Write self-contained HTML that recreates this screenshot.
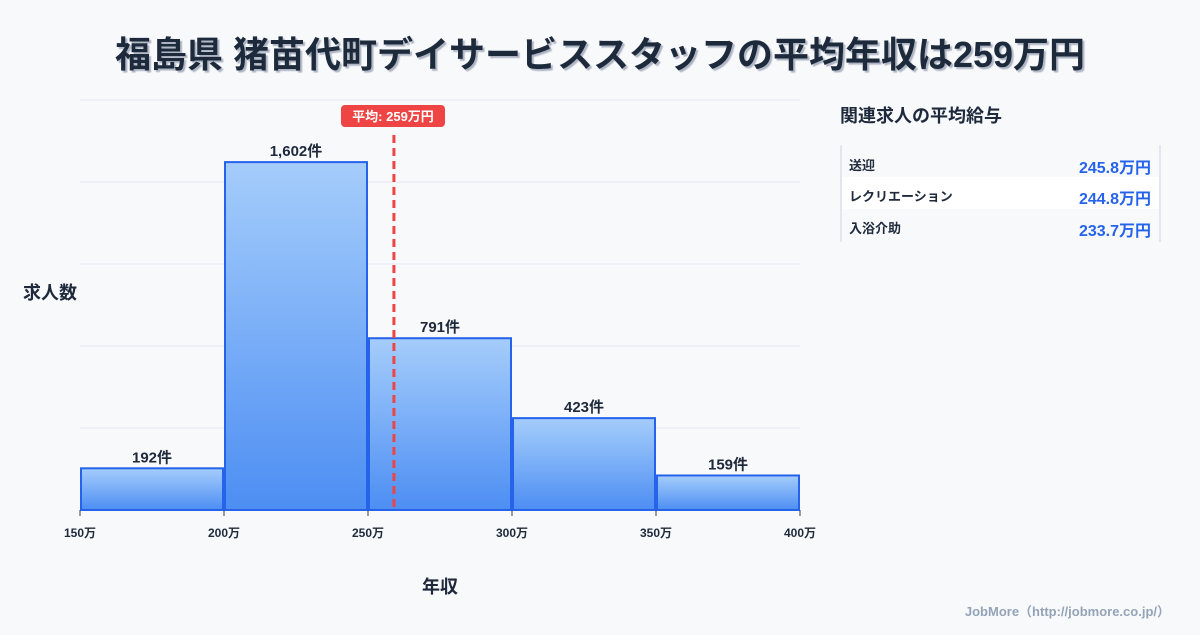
<!DOCTYPE html>
<html><head><meta charset="utf-8">
<style>
body{margin:0;width:1200px;height:630px;background:#f8f9fb;font-family:"Liberation Sans","Noto Sans CJK JP",sans-serif;overflow:hidden}
</style></head>
<body>
<svg width="1200" height="630" xmlns="http://www.w3.org/2000/svg">
<defs>
<linearGradient id="bg" x1="0" y1="0" x2="0" y2="1"><stop offset="0" stop-color="#a5cdfb"/><stop offset="1" stop-color="#4d8ef3"/></linearGradient>
<filter id="ts"><feDropShadow dx="2" dy="2" stdDeviation="0.5" flood-color="#9aa3b5" flood-opacity="0.8"/></filter>
</defs>
<text x="600" y="67" text-anchor="middle" font-size="36" font-weight="bold" fill="#1e293b" filter="url(#ts)" font-family="Liberation Sans,Noto Sans CJK JP,sans-serif">福島県 猪苗代町デイサービススタッフの平均年収は259万円</text>
<g id="grid"></g>
<g id="bars"></g>
<g id="xticks"></g>
<text x="50" y="299" text-anchor="middle" font-size="18" font-weight="bold" fill="#1e293b">求人数</text>
<text x="440" y="593" text-anchor="middle" font-size="18" font-weight="bold" fill="#1e293b">年収</text>
<g id="mean"></g>
<text x="840" y="122" font-size="18" font-weight="bold" fill="#1e293b">関連求人の平均給与</text>
<g>
<line x1="841" y1="145" x2="841" y2="242" stroke="#cbd5e1"/>
<line x1="1160" y1="145" x2="1160" y2="242" stroke="#cbd5e1"/>
<rect x="842" y="177" width="317" height="32" fill="#ffffff"/>
<g><text x="849" y="170" font-size="13" font-weight="bold" fill="#1e293b">送迎</text><text x="1151" y="173" text-anchor="end" font-size="16" font-weight="bold" fill="#2563eb">245.8万円</text></g>
<g><text x="849" y="201" font-size="13" font-weight="bold" fill="#1e293b">レクリエーション</text><text x="1151" y="204" text-anchor="end" font-size="16" font-weight="bold" fill="#2563eb">244.8万円</text></g>
<g><text x="849" y="233" font-size="13" font-weight="bold" fill="#1e293b">入浴介助</text><text x="1151" y="236" text-anchor="end" font-size="16" font-weight="bold" fill="#2563eb">233.7万円</text></g>
</g>
<text x="1170" y="616" text-anchor="end" font-size="13" font-weight="bold" fill="#94a3b8">JobMore（http://jobmore.co.jp/）</text>
</svg>
<script>
const binStarts=[150,200,250,300,350];
const counts=[192,1602,791,423,159];
const countLabels=["192件","1,602件","791件","423件","159件"];
const xTickValues=[150,200,250,300,350,400];
const meanValue=259;
const meanLabel="平均: 259万円";
const binWidth=50;
const X0=80,X1=800,Y0=510,Y1=100,xMin=150,xMax=400,yMax=1888;
const xs=v=>X0+(v-xMin)/(xMax-xMin)*(X1-X0);
const ys=v=>Y0-v/yMax*(Y0-Y1);
const NS="http://www.w3.org/2000/svg";
function mk(t,a,p,txt){const e=document.createElementNS(NS,t);for(const k in a)e.setAttribute(k,a[k]);if(txt!==undefined)e.textContent=txt;p.appendChild(e);return e;}
const grid=document.getElementById('grid');
for(let i=0;i<=5;i++){const y=Y1+i*(Y0-Y1)/5;
const l=mk('line',{x1:X0,x2:X1,y1:y,y2:y,stroke:'#e2e8f0'},grid);

}
const bars=document.getElementById('bars');
counts.forEach((c,i)=>{const xa=xs(binStarts[i])+1,xb=xs(binStarts[i]+binWidth)-1,y=ys(c);
const r=mk('rect',{x:xa,y:y,width:xb-xa,height:Y0-y,fill:'url(#bg)',stroke:'#2563eb','stroke-width':2},bars);


const t=mk('text',{x:(xa+xb)/2,y:y-6,'text-anchor':'middle','font-size':15,'font-weight':'bold',fill:'#1e293b'},bars,countLabels[i]);

});
const xt=document.getElementById('xticks');
xTickValues.forEach(v=>{const x=xs(v);
mk('line',{x1:x,x2:x,y1:Y0,y2:Y0+6,stroke:'#334155'},xt);
const t=mk('text',{x:x,y:537,'text-anchor':'middle','font-size':12,'font-weight':'bold',fill:'#1e293b'},xt,v+'万');

});
const mg=document.getElementById('mean');const mx=xs(meanValue);
const ml=mk('line',{x1:mx,x2:mx,y1:135,y2:Y0,stroke:'#ef4444','stroke-width':3,'stroke-dasharray':'8,5'},mg);


const mr=mk('rect',{x:341,y:105,width:104,height:22,rx:4,fill:'#ef4444'},mg);


const mt=mk('text',{x:393,y:121,'text-anchor':'middle','font-size':13,'font-weight':'bold',fill:'#fff'},mg,meanLabel);


</script>
</body></html>
